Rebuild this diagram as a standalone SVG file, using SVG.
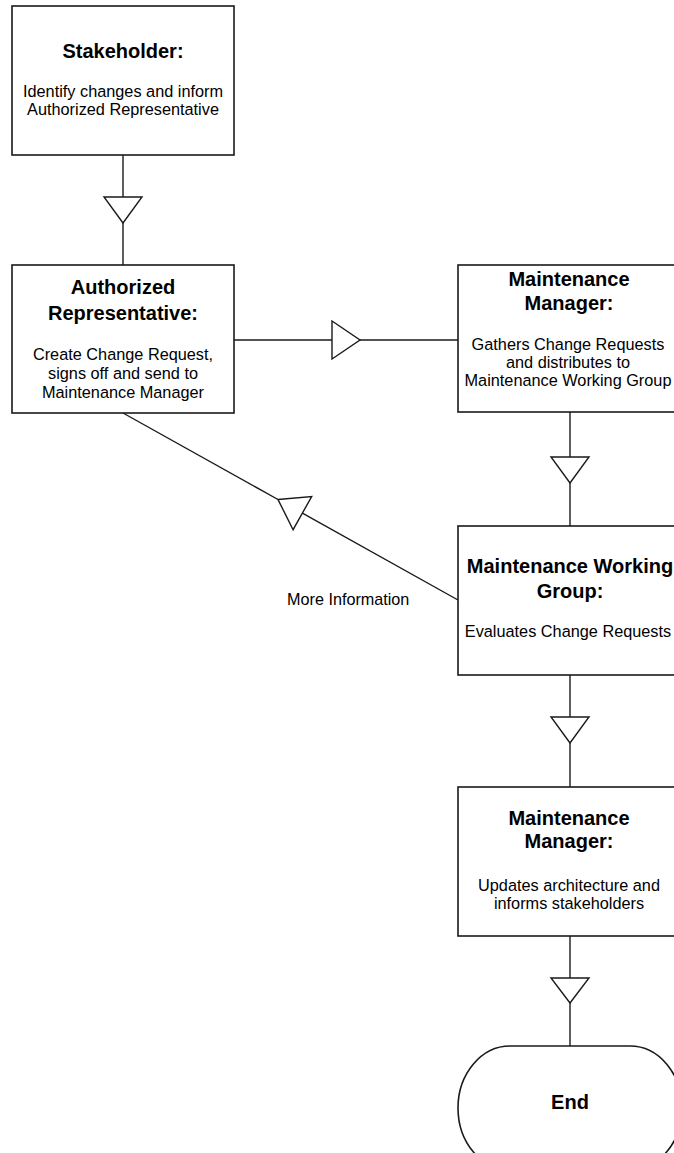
<svg xmlns="http://www.w3.org/2000/svg" width="674" height="1153" viewBox="0 0 674 1153">
<style>
.box{fill:#fff;stroke:#1a1a1a;stroke-width:1.6}
.ln{fill:none;stroke:#1a1a1a;stroke-width:1.4}
.tri{fill:#fff;stroke:#1a1a1a;stroke-width:1.4;stroke-linejoin:miter}
.t{font-family:"Liberation Sans",Arial,sans-serif;font-size:20px;font-weight:bold;fill:#000;text-anchor:middle}
.b{font-family:"Liberation Sans",Arial,sans-serif;font-size:16.3px;fill:#000;text-anchor:middle}
.lbl{font-family:"Liberation Sans",Arial,sans-serif;font-size:16.2px;fill:#000}
</style>
<rect width="674" height="1153" fill="#fff"/>
<g id="connectors">
<line class="ln" x1="123" y1="155" x2="123" y2="265"/>
<polygon class="tri" points="104,197 142,197 123,223"/>
<line class="ln" x1="234" y1="340" x2="458" y2="340"/>
<polygon class="tri" points="332,321 332,359 360,340"/>
<line class="ln" x1="570" y1="412" x2="570" y2="526"/>
<polygon class="tri" points="551,457 589,457 570,483"/>
<line class="ln" x1="570" y1="675" x2="570" y2="787"/>
<polygon class="tri" points="551,717 589,717 570,743"/>
<line class="ln" x1="570" y1="936" x2="570" y2="1046"/>
<polygon class="tri" points="551,978 589,978 570,1003"/>
<line class="ln" x1="123" y1="413" x2="278" y2="499.5"/>
<line class="ln" x1="302.4" y1="513.1" x2="458" y2="600"/>
<polygon class="tri" points="278,499.5 311.7,496.5 293.1,529.7"/>
<text class="lbl" x="287" y="605">More Information</text>
</g>
<g id="stakeholder">
<rect class="box" x="12" y="6" width="222" height="149"/>
<text class="t" x="123" y="58">Stakeholder:</text>
<text class="b" x="123" y="97">Identify changes and inform</text>
<text class="b" x="123" y="115">Authorized Representative</text>
</g>
<g id="authorized-representative">
<rect class="box" x="12" y="265" width="222" height="148"/>
<text class="t" x="123" y="294">Authorized</text>
<text class="t" x="123" y="320">Representative:</text>
<text class="b" x="123" y="360">Create Change Request,</text>
<text class="b" x="123" y="379">signs off and send to</text>
<text class="b" x="123" y="398">Maintenance Manager</text>
</g>
<g id="maintenance-manager-1">
<rect class="box" x="458" y="265" width="224" height="147"/>
<text class="t" x="569" y="286">Maintenance</text>
<text class="t" x="569" y="310">Manager:</text>
<text class="b" x="568" y="350">Gathers Change Requests</text>
<text class="b" x="568" y="368">and distributes to</text>
<text class="b" x="568" y="386">Maintenance Working Group</text>
</g>
<g id="maintenance-working-group">
<rect class="box" x="458" y="526" width="224" height="149"/>
<text class="t" x="570" y="573">Maintenance Working</text>
<text class="t" x="570" y="598">Group:</text>
<text class="b" x="568" y="637">Evaluates Change Requests</text>
</g>
<g id="maintenance-manager-2">
<rect class="box" x="458" y="787" width="224" height="149"/>
<text class="t" x="569" y="825">Maintenance</text>
<text class="t" x="569" y="848">Manager:</text>
<text class="b" x="569" y="891">Updates architecture and</text>
<text class="b" x="569" y="909">informs stakeholders</text>
</g>
<g id="end">
<path class="box" d="M510,1046 H630 A52,62 0 0 1 630,1170 H510 A52,62 0 0 1 510,1046 Z"/>
<text class="t" x="570" y="1109">End</text>
</g>
</svg>
